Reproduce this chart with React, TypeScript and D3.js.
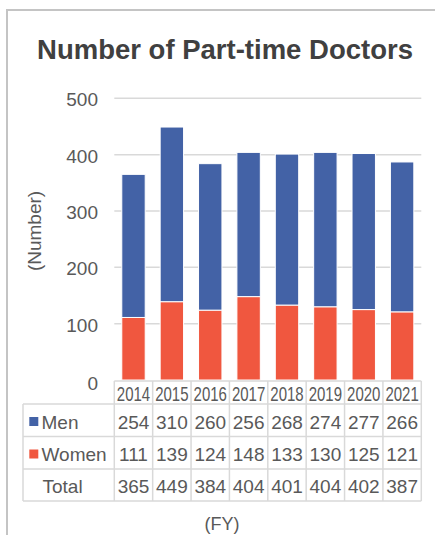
import * as d3 from 'd3';

const years = ['2014', '2015', '2016', '2017', '2018', '2019', '2020', '2021'];
const men = [254, 310, 260, 256, 268, 274, 277, 266];
const women = [111, 139, 124, 148, 133, 130, 125, 121];
const totals = [365, 449, 384, 404, 401, 404, 402, 387];
const yTicks = [0, 100, 200, 300, 400, 500];

const BLUE = '#4362a6';
const RED = '#f0573f';
const TEXT = '#595959';
const GRID = '#d9d9d9';
const FONT = '"Liberation Sans", Arial, sans-serif';

export default function App() {
  const width = 435;
  const height = 535;

  const left = 114.3;
  const right = 421.3;

  // table columns share the band steps with the bars
  const xCol = d3.scaleBand<string>().domain(years).range([left, right]);
  const x = d3.scaleBand<string>().domain(years).range([left, right]).paddingInner(0.39).paddingOuter(0.195);
  const y = d3.scaleLinear().domain([0, 500]).range([380, 98.3]);

  const rows = years.map((yr, i) => ({ year: yr, women: women[i], men: men[i] }));
  const stacked = d3.stack<any>().keys(['women', 'men'])(rows);
  const colors: Record<string, string> = { women: RED, men: BLUE };

  const rowLines = [381, 404, 436.5, 469, 501];
  const tableRows = [
    { label: 'Men', values: men, color: BLUE, base: 428.5 },
    { label: 'Women', values: women, color: RED, base: 461 },
    { label: 'Total', values: totals, color: null, base: 493 },
  ];

  return (
    <svg width={width} height={height} style={{ position: 'absolute', left: 0, top: 0, background: '#fff' }} fontFamily={FONT}>
      {/* frame */}
      <path d={`M7,${height} V10 H${width}`} fill="none" stroke="#c4c4c4" strokeWidth={2} />

      <text x={225} y={59} textAnchor="middle" fontSize={27.5} fontWeight="bold" fill="#404040">
        Number of Part-time Doctors
      </text>

      {/* gridlines + y ticks */}
      {yTicks.map(t => (
        <g key={t}>
          {t > 0 && <line x1={left} x2={right} y1={y(t)} y2={y(t)} stroke={GRID} strokeWidth={1.5} />}
          <text x={98} y={y(t) + (t === 0 ? 10 : 8)} textAnchor="end" fontSize={19} fill={TEXT}>{t}</text>
        </g>
      ))}

      <text transform="translate(41,231) rotate(-90)" textAnchor="middle" fontSize={19} fill={TEXT}>(Number)</text>

      {/* bars */}
      {stacked.map(layer => (
        <g key={layer.key} fill={colors[layer.key]}>
          {layer.map((d: any) => (
            <rect key={d.data.year} x={x(d.data.year)} y={y(d[1])} width={x.bandwidth()}
              height={y(d[0]) - y(d[1])} stroke="#fff" strokeWidth={1} />
          ))}
        </g>
      ))}

      {/* data table */}
      <g stroke={GRID} strokeWidth={1.5}>
        {rowLines.map((ry, i) => (
          <line key={ry} x1={i === 0 ? left : 23} x2={right} y1={ry} y2={ry} />
        ))}
        <line x1={23} x2={23} y1={rowLines[1]} y2={rowLines[4]} />
        {years.map(yr => (
          <line key={yr} x1={xCol(yr)} x2={xCol(yr)} y1={rowLines[0]} y2={rowLines[4]} />
        ))}
        <line x1={right} x2={right} y1={rowLines[0]} y2={rowLines[4]} />
      </g>

      {/* year header, horizontally squeezed like the original */}
      {years.map(yr => (
        <text key={yr} textAnchor="middle" fontSize={20} fill={TEXT}
          transform={`translate(${(xCol(yr) as number) + xCol.bandwidth() / 2},401) scale(0.75,1)`}>
          {yr}
        </text>
      ))}

      {tableRows.map(r => (
        <g key={r.label}>
          {r.color && <rect x={29.3} y={r.base - 11.5} width={9} height={9} fill={r.color} />}
          <text x={r.color ? 41.5 : 42.5} y={r.base} fontSize={19} fill={TEXT}>{r.label}</text>
          {r.values.map((v, i) => (
            <text key={i} x={(xCol(years[i]) as number) + xCol.bandwidth() / 2} y={r.base}
              textAnchor="middle" fontSize={19} fill={TEXT}>{v}</text>
          ))}
        </g>
      ))}

      <text x={222} y={530} textAnchor="middle" fontSize={18} fill={TEXT}>(FY)</text>
    </svg>
  );
}
